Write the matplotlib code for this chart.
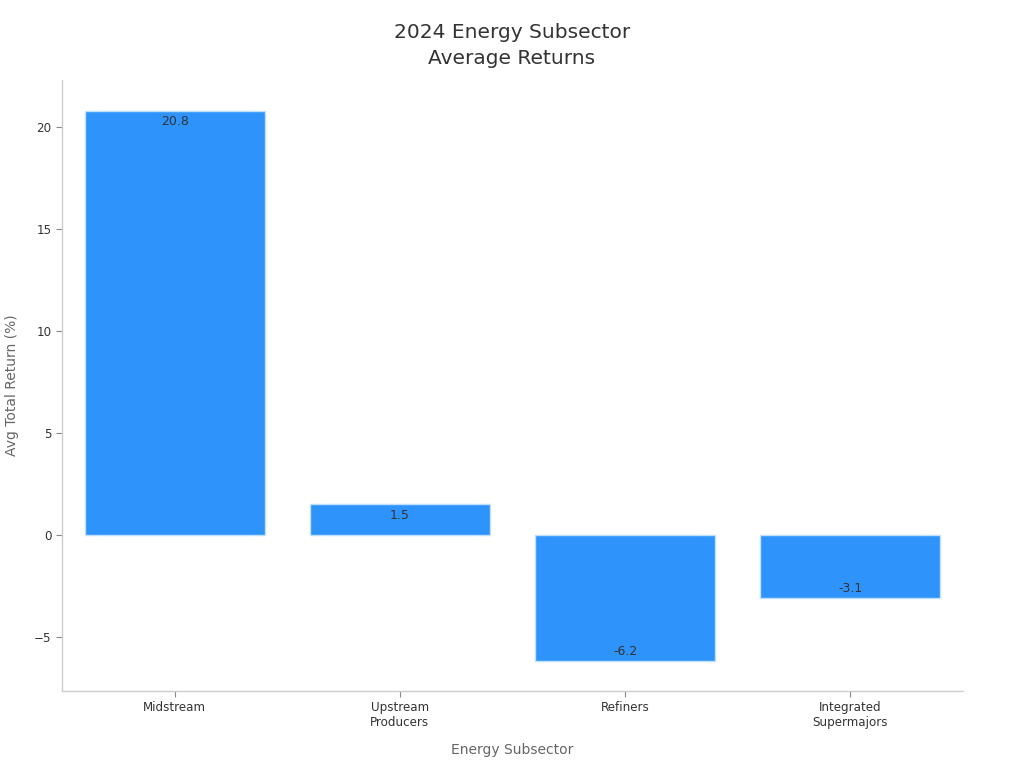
import matplotlib
matplotlib.use("Agg")
import matplotlib.pyplot as plt

subsectors = ["Midstream", "Upstream\nProducers", "Refiners", "Integrated\nSupermajors"]
avg_returns = [20.8, 1.5, -6.2, -3.1]

BAR_COLOR = "#2E93FA"
TEXT_COLOR = "#333333"
LABEL_COLOR = "#666666"
SPINE_COLOR = "#cccccc"

fig = plt.figure(figsize=(10.24, 7.68), dpi=100)
ax = fig.add_axes([62 / 1024, 1 - 691 / 768, (963 - 62) / 1024, (691 - 80) / 768])

x = range(len(subsectors))
bars = ax.bar(x, avg_returns, width=0.8, color=BAR_COLOR, edgecolor="#bfe0ff", linewidth=1)

for rect, val in zip(bars, avg_returns):
    cx = rect.get_x() + rect.get_width() / 2
    if val >= 0:
        ax.annotate(f"{val}", (cx, val), xytext=(0, -3.2), textcoords="offset points",
                    ha="center", va="top", fontsize=9, color=TEXT_COLOR)
    else:
        ax.annotate(f"{val}", (cx, val), xytext=(0, 2.5), textcoords="offset points",
                    ha="center", va="bottom", fontsize=9, color=TEXT_COLOR)

ax.set_xlim(-0.5, 3.5)
ax.set_ylim(-7.65, 22.3)
ax.set_xticks(list(x))
ax.set_xticklabels(subsectors, fontsize=8.6, color=TEXT_COLOR)
ax.set_yticks([-5, 0, 5, 10, 15, 20])
ax.set_yticklabels(["\u22125", "0", "5", "10", "15", "20"], fontsize=8.6, color=TEXT_COLOR)
ax.tick_params(axis="both", colors="#888888", labelcolor=TEXT_COLOR, length=4, width=0.8)

for side in ["top", "right"]:
    ax.spines[side].set_visible(False)
for side in ["left", "bottom"]:
    ax.spines[side].set_color(SPINE_COLOR)
    ax.spines[side].set_linewidth(1)

ax.set_xlabel("Energy Subsector", fontsize=10, color=LABEL_COLOR, labelpad=10)
ax.set_ylabel("Avg Total Return (%)", fontsize=10, color=LABEL_COLOR, labelpad=11)
fig.suptitle("2024 Energy Subsector\nAverage Returns", fontsize=14.5, color=TEXT_COLOR,
             y=1 - 23 / 768, va="top", linespacing=1.5)

fig.savefig("out.png", dpi=100)
